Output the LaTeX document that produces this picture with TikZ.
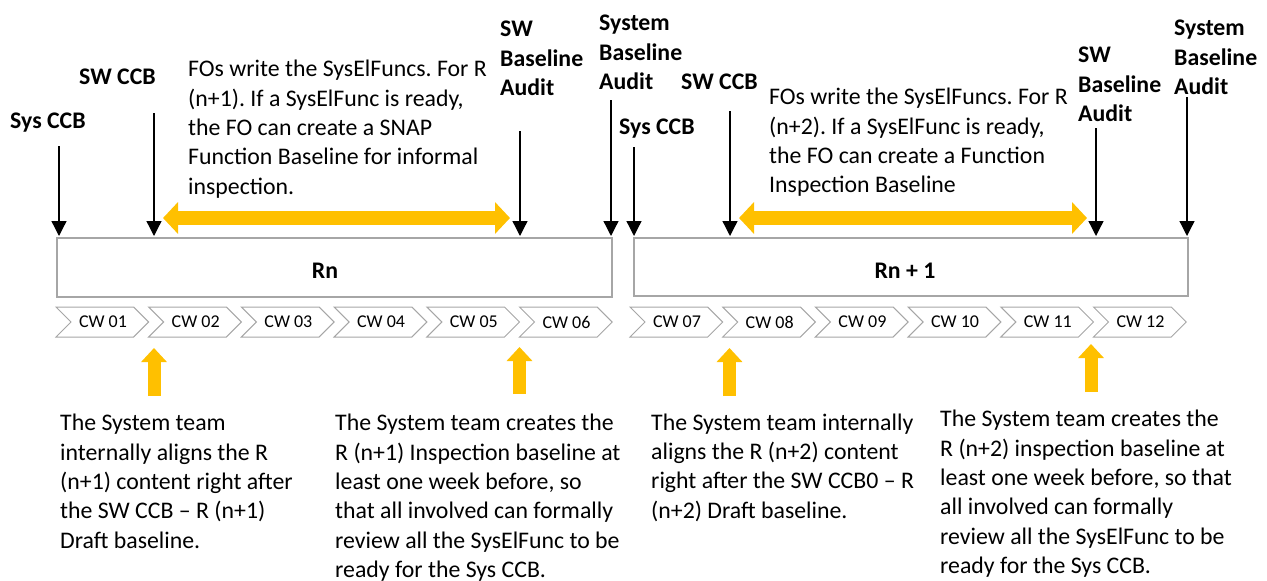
\documentclass[tikz,border=0pt]{standalone}
\usepackage{fontspec}
\setmainfont{Carlito}
\frenchspacing
\usetikzlibrary{arrows.meta}
\definecolor{gold}{HTML}{FFC000}
\definecolor{edgegray}{HTML}{A6A6A6}
\newcommand{\tstrut}{\rule{0pt}{20pt}}
\newcommand{\chev}[3]{%
  \draw[chevst] (#1,307) -- ++(77.7,0) -- ++(15,15) -- ++(-15,15) -- ++(-77.7,0) -- ++(15,-15) -- cycle;
  \node[cwtxt] (#3) at ({#1+47},322) {#2};}
\begin{document}
\begin{tikzpicture}[x=1pt,y=-1pt,
  lbl/.style={font=\bfseries\fontsize{23.8}{29.3}\selectfont, align=left, anchor=north west, inner sep=0pt},
  txt/.style={font=\fontsize{23.8}{29.3}\selectfont, align=left, anchor=north west, inner sep=0pt},
  blk/.style={-{Triangle[width=15pt,length=15pt]}, line width=1.3pt, black},
  golddbl/.style={{Triangle[width=31pt,length=15pt]}-{Triangle[width=31pt,length=15pt]}, line width=14pt, gold},
  goldup/.style={-{Triangle[width=25pt,length=14pt]}, line width=13pt, gold},
  boxst/.style={draw=edgegray, line width=1.3pt, fill=white, inner sep=0pt},
  rlabel/.style={font=\bfseries\fontsize{23.8}{29}\selectfont, inner sep=0pt},
  chevst/.style={draw=edgegray, line width=1pt, fill=white},
  cwtxt/.style={font=\fontsize{18}{22}\selectfont, inner sep=0pt}]
\useasboundingbox (0,0) rectangle (1267,581);

% boxes
\node[boxst, minimum width=555pt, minimum height=59pt] (rn) at (334.5,267.5) {};
\node[rlabel] (rnt) at (325,271) {Rn};
\node[boxst, minimum width=554pt, minimum height=58pt] (rn1) at (911,267) {};
\node[rlabel] (rn1t) at (905,271) {Rn + 1};

% chevrons
\chev{56}{CW 01}{cw1}
\chev{148.7}{CW 02}{cw2}
\chev{241.4}{CW 03}{cw3}
\chev{334.1}{CW 04}{cw4}
\chev{426.8}{CW 05}{cw5}
\chev{519.5}{CW 06}{cw6}
\chev{630}{CW 07}{cw7}
\chev{722.7}{CW 08}{cw8}
\chev{815.4}{CW 09}{cw9}
\chev{908.1}{CW 10}{cw10}
\chev{1000.8}{CW 11}{cw11}
\chev{1093.5}{CW 12}{cw12}

% top labels
\node[lbl] (syscc1) at (10,108.6) {\tstrut Sys CCB};
\node[lbl] (swcc1) at (79,64.6) {\tstrut SW CCB};
\node[lbl] (swba1) at (500,16.6) {\tstrut SW\\Baseline\\Audit};
\node[lbl] (sysba1) at (599,10.6) {\tstrut System\\Baseline\\Audit};
\node[lbl] (syscc2) at (619,114.6) {\tstrut Sys CCB};
\node[lbl] (swcc2) at (681,69.6) {\tstrut SW CCB};
\node[lbl] (swba2) at (1078,42.6) {\tstrut SW\\Baseline\\Audit};
\node[lbl] (sysba2) at (1174,15.6) {\tstrut System\\Baseline\\Audit};

% FO texts
\node[txt] (fo1) at (188,56.6) {\tstrut FOs write the SysElFuncs. For R\\(n+1). If a SysElFunc is ready,\\the FO can create a SNAP\\Function Baseline for informal\\inspection.};
\node[txt] (fo2) at (769,84.6) {\tstrut FOs write the SysElFuncs. For R\\(n+2). If a SysElFunc is ready,\\the FO can create a Function\\Inspection Baseline};

% black arrow coordinates
\coordinate (a1s) at (59,146);   \coordinate (a1e) at (59,236);
\coordinate (a2s) at (154,113);  \coordinate (a2e) at (154,236);
\coordinate (a3s) at (520,131);  \coordinate (a3e) at (520,236);
\coordinate (a4s) at (611,100);  \coordinate (a4e) at (611,236);
\coordinate (a5s) at (634,147);  \coordinate (a5e) at (634,236);
\coordinate (a6s) at (730,111);  \coordinate (a6e) at (730,236);
\coordinate (a7s) at (1096,128); \coordinate (a7e) at (1096,236);
\coordinate (a8s) at (1187,97);  \coordinate (a8e) at (1187,236);
\foreach \k in {1,...,8} {\draw[blk] (a\k s) -- (a\k e);}

% gold double arrows
\coordinate (d1a) at (163,218); \coordinate (d1b) at (510,218);
\coordinate (d2a) at (739,218); \coordinate (d2b) at (1087,218);
\draw[golddbl] (d1a) -- (d1b);
\draw[golddbl] (d2a) -- (d2b);

% gold up arrows
\coordinate (u1b) at (154,396);  \coordinate (u1t) at (154,348);
\coordinate (u2b) at (519.5,394);\coordinate (u2t) at (519.5,347);
\coordinate (u3b) at (729.5,396);\coordinate (u3t) at (729.5,348);
\coordinate (u4b) at (1091,392); \coordinate (u4t) at (1091,344);
\foreach \k in {1,...,4} {\draw[goldup] (u\k b) -- (u\k t);}

% bottom texts
\node[txt] (b1) at (60,410.6) {\tstrut The System team\\internally aligns the R\\(n+1) content right after\\the SW CCB – R (n+1)\\Draft baseline.};
\node[txt] (b2) at (335,410.6) {\tstrut The System team creates the\\R (n+1) Inspection baseline at\\least one week before, so\\that all involved can formally\\review all the SysElFunc to be\\ready for the Sys CCB.};
\node[txt] (b3) at (651,410) {\tstrut The System team internally\\aligns the R (n+2) content\\right after the SW CCB0 – R\\(n+2) Draft baseline.};
\node[txt] (b4) at (940,406.6) {\tstrut The System team creates the\\R (n+2) inspection baseline at\\least one week before, so that\\all involved can formally\\review all the SysElFunc to be\\ready for the Sys CCB.};
\end{tikzpicture}
\end{document}
